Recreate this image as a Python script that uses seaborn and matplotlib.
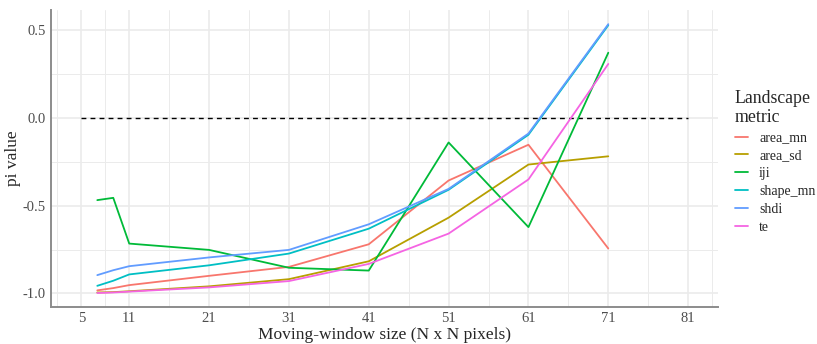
import matplotlib
matplotlib.use("Agg")
import matplotlib.pyplot as plt
import seaborn as sns
import pandas as pd
import numpy as np

# ---- data ----
window = [7, 9, 11, 21, 31, 41, 51, 61, 71]
area_mn = [-0.983, -0.970, -0.953, -0.900, -0.849, -0.720, -0.356, -0.152, -0.744]
area_sd = [-0.995, -0.993, -0.988, -0.960, -0.919, -0.817, -0.568, -0.265, -0.218]
iji = [-0.468, -0.455, -0.716, -0.752, -0.854, -0.870, -0.139, -0.622, 0.373]
shape_mn = [-0.957, -0.928, -0.892, -0.840, -0.773, -0.631, -0.409, -0.095, 0.530]
shdi = [-0.896, -0.868, -0.845, -0.795, -0.752, -0.606, -0.404, -0.088, 0.536]
te = [-0.998, -0.995, -0.990, -0.966, -0.930, -0.832, -0.659, -0.350, 0.309]

metrics = ["area_mn", "area_sd", "iji", "shape_mn", "shdi", "te"]
colors = ["#F8766D", "#B79F00", "#00BA38", "#00BFC4", "#619CFF", "#F564E3"]
x_ticks = [5, 11, 21, 31, 41, 51, 61, 71, 81]
x_minor = [2, 8, 16, 26, 36, 46, 56, 66, 76, 84]
y_ticks = [-1.0, -0.5, 0.0, 0.5]
y_tick_labels = ["-1.0", "-0.5", "0.0", "0.5"]
y_minor = [-0.75, -0.25, 0.25]
ref_start, ref_end = 5, 81

series = dict(zip(metrics, [area_mn, area_sd, iji, shape_mn, shdi, te]))
df = pd.DataFrame([
    {"window": w, "pi": v, "metric": m}
    for m in metrics for w, v in zip(window, series[m])
])

sns.set_theme(style="white")
plt.rcParams["font.family"] = ["Liberation Serif", "DejaVu Serif"]

fig = plt.figure(figsize=(8.17, 3.44), dpi=100)
ax = fig.add_axes([0.0624, 0.108, 0.817, 0.863])

grid_c = "#EBEBEB"
for xm in x_minor:
    ax.axvline(xm, color=grid_c, lw=0.7, zorder=0)
for ym in y_minor:
    ax.axhline(ym, color=grid_c, lw=0.7, zorder=0)
for xt in x_ticks:
    ax.axvline(xt, color=grid_c, lw=1.2, zorder=0)
for yt in y_ticks:
    ax.axhline(yt, color=grid_c, lw=1.2, zorder=0)

ax.hlines(0, ref_start, ref_end, colors="black", linestyles=(0, (3.5, 3)), lw=1.0, zorder=1)

sns.lineplot(data=df, x="window", y="pi", hue="metric", hue_order=metrics,
             palette=dict(zip(metrics, colors)), lw=1.3, ax=ax, zorder=2)

ax.set_xlim(1.2, 84.8)
ax.set_ylim(-1.077, 0.617)
ax.set_xticks(x_ticks)
ax.set_xticklabels([str(t) for t in x_ticks])
ax.set_yticks(y_ticks)
ax.set_yticklabels(y_tick_labels)
ax.tick_params(axis="both", length=0, labelsize=10.5, labelcolor="#4D4D4D", pad=4)

for s in ["top", "right"]:
    ax.spines[s].set_visible(False)
for s in ["left", "bottom"]:
    ax.spines[s].set_color("#8C8C8C")
    ax.spines[s].set_linewidth(1.4)

ax.set_xlabel("Moving-window size (N x N pixels)", fontsize=12.5, labelpad=1)
ax.set_ylabel("pi value", fontsize=12.5, labelpad=1)

handles, labels = ax.get_legend_handles_labels()
ax.legend(handles, labels, title="Landscape\nmetric", loc="upper left",
          bbox_to_anchor=(0.884, 0.775), bbox_transform=fig.transFigure,
          frameon=False, fontsize=10, title_fontsize=12.8,
          handlelength=0.95, handletextpad=0.8, labelspacing=0.35,
          alignment="left")

fig.savefig("out.png", dpi=100)
